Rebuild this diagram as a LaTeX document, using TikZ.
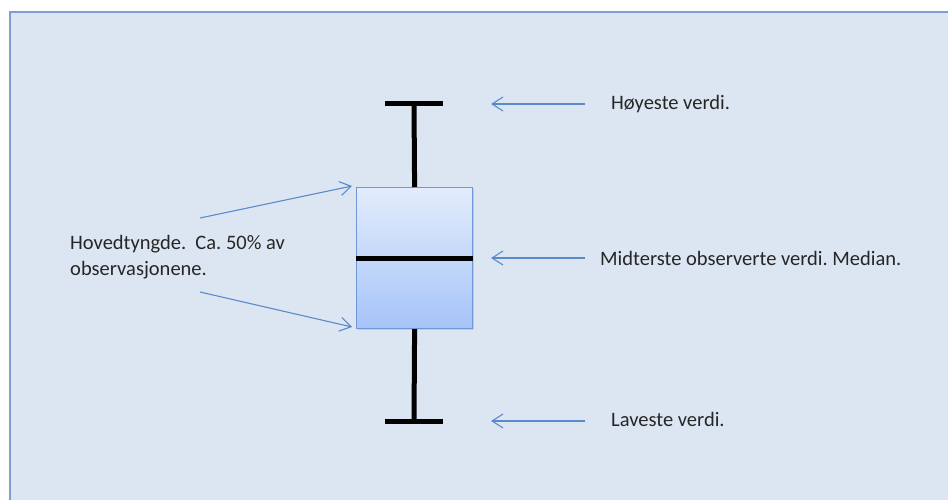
\documentclass[tikz,border=0pt]{standalone}
\usepackage{fontspec}
\setmainfont{Carlito}
\usetikzlibrary{arrows.meta,shadows}
\definecolor{panel}{HTML}{DCE6F2}
\definecolor{panelborder}{HTML}{7F9FCF}
\definecolor{arrowblue}{HTML}{5B8ACB}
\definecolor{boxtop}{HTML}{E3ECFD}
\definecolor{boxbot}{HTML}{A6C4F8}
\definecolor{boxedge}{HTML}{6F96D6}
\definecolor{txt}{HTML}{262626}
\frenchspacing
\tikzset{
  whisker/.style={line width=5pt,black},
  pointer/.style={arrowblue,line width=1.1pt,-{Straight Barb[length=11pt,width=14pt]}},
  lbl/.style={anchor=west,inner sep=0pt,font=\fontsize{20.5}{26}\selectfont,text=txt},
}
\begin{document}
\begin{tikzpicture}[x=1pt,y=-1pt]
\useasboundingbox (0,0) rectangle (948,500);
\filldraw[fill=panel,draw=panelborder,line width=1.2pt] (10,12) rectangle (960,510);
% box
\node (box) [draw=boxedge,line width=1.2pt,top color=boxtop,bottom color=boxbot,
  minimum width=116pt,minimum height=141pt,inner sep=0pt,anchor=north west,
  drop shadow={shadow xshift=1.5pt,shadow yshift=-1.5pt,opacity=0.25}] at (356,187) {};
\coordinate (tc) at (414,104);
\coordinate (bc) at (414,421);
\draw[whisker] (385,104) -- (443,104);
\draw[whisker] (tc) -- (box.north);
\draw[whisker] (box.south) -- (bc);
\draw[whisker] (385,421) -- (443,421);
\draw[whisker] (box.west |- 0,258) -- (box.east |- 0,258);
% labels
\node (hi) [lbl] at (611,104) {Høyeste verdi.};
\node (med) [lbl] at (600,258) {Midterste observerte verdi. Median.};
\node (lo) [lbl] at (611,419) {Laveste verdi.};
\node (main) [lbl,align=left] at (70,257) {Hovedtyngde.\ \ Ca. 50\% av\\observasjonene.};
% arrows
\coordinate (a1) at (585,104); \coordinate (b1) at (491,104);
\coordinate (a2) at (585,258); \coordinate (b2) at (491,258);
\coordinate (a3) at (585,421); \coordinate (b3) at (491,421);
\coordinate (l1) at (200,218); \coordinate (t1) at (352,186);
\coordinate (l2) at (200,292); \coordinate (t2) at (352,327);
\draw[pointer] (a1) -- (b1);
\draw[pointer] (a2) -- (b2);
\draw[pointer] (a3) -- (b3);
\draw[pointer] (l1) -- (t1);
\draw[pointer] (l2) -- (t2);
\end{tikzpicture}
\end{document}
